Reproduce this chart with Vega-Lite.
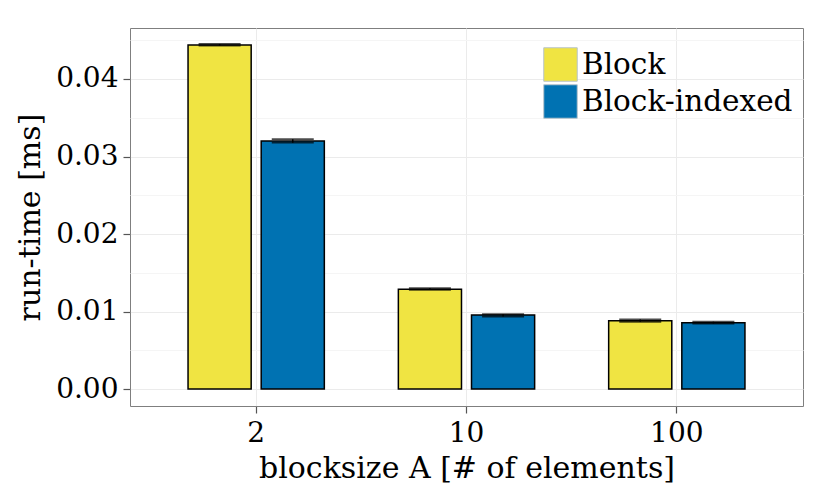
{
  "$schema": "https://vega.github.io/schema/vega-lite/v6.json",
  "width": 673,
  "height": 378,
  "autosize": {"type": "none"},
  "padding": {"left": 130, "top": 28, "right": 27, "bottom": 92},
  "background": "white",
  "config": {
    "font": "DejaVu Serif",
    "view": {"stroke": "#7f7f7f", "strokeWidth": 1},
    "axis": {
      "labelFont": "DejaVu Serif",
      "titleFont": "DejaVu Serif",
      "labelFontSize": 28,
      "titleFontSize": 30,
      "titleFontWeight": "normal",
      "labelColor": "black",
      "titleColor": "black",
      "domain": false,
      "tickColor": "#555555",
      "tickWidth": 1.2,
      "tickSize": 7,
      "gridColor": "#ebebeb",
      "gridWidth": 1
    },
    "legend": {
      "labelFont": "DejaVu Serif",
      "labelFontSize": 29.5,
      "labelColor": "black",
      "labelLimit": 400
    }
  },
  "data": {
    "values": [
      {"blocksize": "2", "type": "Block", "time": 0.04440, "lo": 0.04432, "hi": 0.04452},
      {"blocksize": "2", "type": "Block-indexed", "time": 0.03200, "lo": 0.03178, "hi": 0.03224},
      {"blocksize": "10", "type": "Block", "time": 0.01287, "lo": 0.01278, "hi": 0.01300},
      {"blocksize": "10", "type": "Block-indexed", "time": 0.00955, "lo": 0.00935, "hi": 0.00966},
      {"blocksize": "100", "type": "Block", "time": 0.00881, "lo": 0.00868, "hi": 0.00897},
      {"blocksize": "100", "type": "Block-indexed", "time": 0.00856, "lo": 0.00845, "hi": 0.00868}
    ]
  },
  "encoding": {
    "x": {
      "field": "blocksize",
      "type": "nominal",
      "scale": {"domain": ["2", "10", "100"], "paddingInner": 0.352, "paddingOuter": 0.276},
      "axis": {
        "title": "blocksize A [# of elements]",
        "labelAngle": 0,
        "labelPadding": 6,
        "titlePadding": 6,
        "grid": true,
        "bandPosition": 0.5
      }
    },
    "xOffset": {
      "field": "type",
      "type": "nominal",
      "scale": {"domain": ["Block", "Block-indexed"], "paddingInner": 0.137, "paddingOuter": 0}
    }
  },
  "layer": [
    {
      "mark": {"type": "bar", "stroke": "black", "strokeWidth": 1.5},
      "encoding": {
        "y": {
          "field": "time",
          "type": "quantitative",
          "scale": {"domain": [-0.00219, 0.04658], "nice": false, "zero": false},
          "axis": {
            "title": "run-time [ms]",
            "values": [0, 0.005, 0.01, 0.015, 0.02, 0.025, 0.03, 0.035, 0.04, 0.045],
            "labelExpr": "round(datum.value*1000) % 10 == 0 ? format(datum.value, '.2f') : ''",
            "gridColor": {"condition": {"test": "round(datum.value*1000) % 10 == 0", "value": "#ebebeb"}, "value": "#f5f5f5"},
            "tickOpacity": {"condition": {"test": "round(datum.value*1000) % 10 == 0", "value": 1}, "value": 0},
            "labelPadding": 5,
            "titlePadding": 10
          }
        },
        "y2": {"datum": 0},
        "fill": {
          "field": "type",
          "type": "nominal",
          "scale": {"domain": ["Block", "Block-indexed"], "range": ["#F0E442", "#0072B2"]},
          "legend": {
            "title": null,
            "orient": "none",
            "legendX": 413,
            "legendY": 19,
            "symbolType": "square",
            "symbolSize": 1122,
            "symbolStrokeColor": "#b8c4cc",
            "symbolStrokeWidth": 1,
            "symbolOpacity": 1,
            "rowPadding": -8,
            "labelOffset": 4,
            "padding": 0
          }
        }
      }
    },
    {
      "mark": {"type": "rule", "color": "black", "strokeWidth": 1.5},
      "encoding": {
        "y": {"field": "lo", "type": "quantitative"},
        "y2": {"field": "hi"}
      }
    },
    {
      "mark": {"type": "tick", "color": "black", "thickness": 1.8, "size": 42, "orient": "horizontal"},
      "encoding": {
        "y": {"field": "lo", "type": "quantitative"}
      }
    },
    {
      "mark": {"type": "tick", "color": "black", "thickness": 1.8, "size": 42, "orient": "horizontal"},
      "encoding": {
        "y": {"field": "hi", "type": "quantitative"}
      }
    }
  ]
}
